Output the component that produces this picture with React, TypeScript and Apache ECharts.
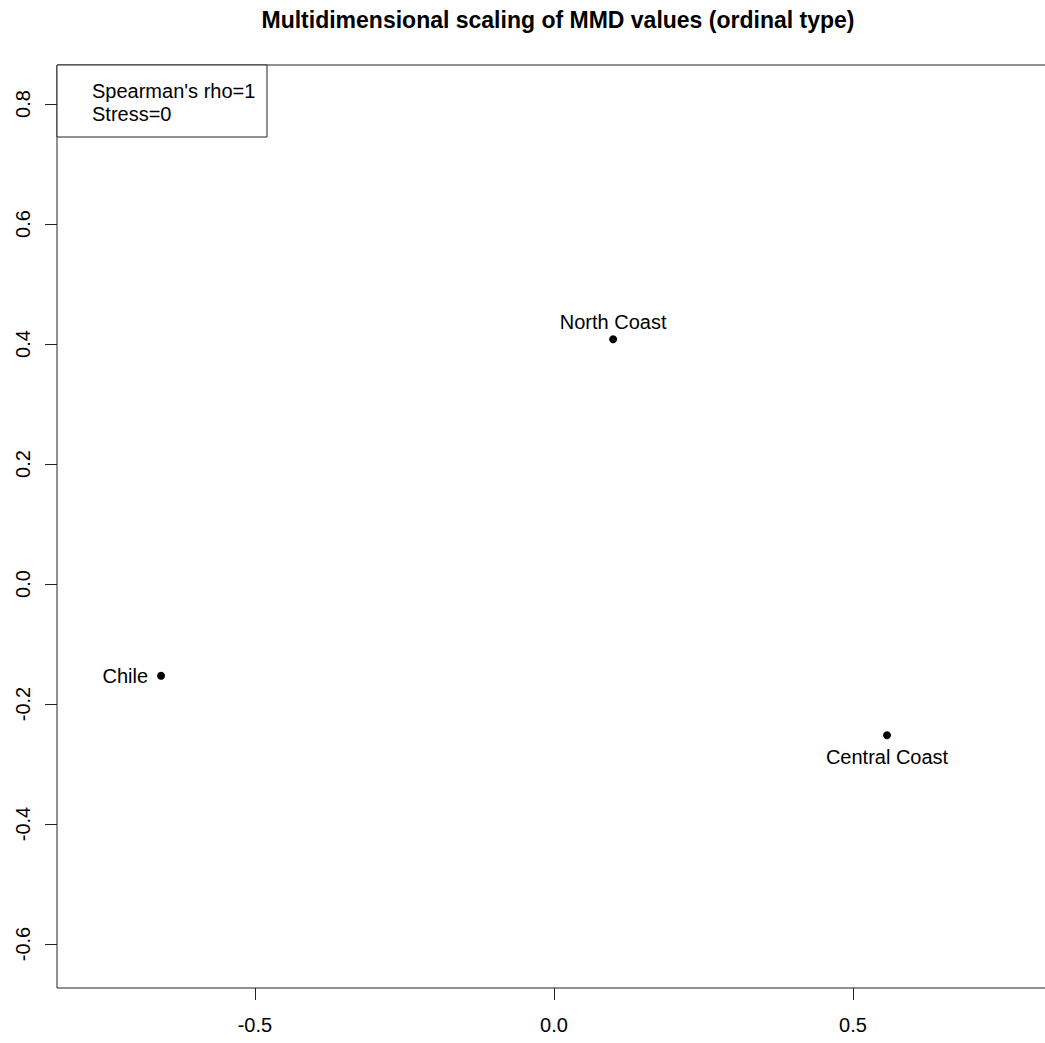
import React, { useEffect, useRef } from "react";
import * as echarts from "echarts";

// MDS coordinates of the three samples
const sampleNames = ["North Coast", "Chile", "Central Coast"];
const dim1 = [0.099, -0.657, 0.557];
const dim2 = [0.408, -0.153, -0.252];
const labelSides = ["top", "left", "bottom"];
const labelGaps = [3, 9, 8];

// axis ticks
const xTicks = [-0.5, 0.0, 0.5];
const yTicks = [-0.6, -0.4, -0.2, 0.0, 0.2, 0.4, 0.6, 0.8];

// fit statistics shown in the corner box
const fitLines = ["Spearman's rho=1", "Stress=0"];

const FONT = "'Liberation Sans', Arial, Helvetica, sans-serif";

export default function App() {
  const ref = useRef<HTMLDivElement>(null);

  useEffect(() => {
    if (!ref.current) return;
    const chart = echarts.init(ref.current, undefined, { renderer: "svg" });

    const gridLeft = 57;
    const gridTop = 65;
    const gridWidth = 992;
    const gridHeight = 923;
    // equal aspect ratio: ~598 px per unit on both axes
    const xMin = -0.831;
    const xMax = xMin + gridWidth / 598;
    const yMax = 0.865;
    const yMin = yMax - gridHeight / 600;

    const fmt = (v: number) => v.toFixed(1);

    chart.setOption({
      animation: false,
      backgroundColor: "#ffffff",
      textStyle: { fontFamily: FONT },
      title: {
        text: "Multidimensional scaling of MMD values (ordinal type)",
        left: 553,
        top: 3,
        textAlign: "center",
        textStyle: { fontFamily: FONT, fontWeight: "bold", fontSize: 23, color: "#000" },
      },
      grid: {
        left: gridLeft,
        top: gridTop,
        width: gridWidth,
        height: gridHeight,
        show: true,
        borderColor: "#222",
        borderWidth: 1,
        backgroundColor: "transparent",
      },
      xAxis: {
        type: "value",
        min: xMin,
        max: xMax,
        splitLine: { show: false },
        axisLine: { show: false, onZero: false },
        axisTick: { show: true, length: 12, customValues: xTicks, lineStyle: { color: "#222" } },
        axisLabel: {
          customValues: xTicks,
          formatter: fmt,
          margin: 27,
          fontSize: 20,
          fontFamily: FONT,
          color: "#000",
        },
      },
      yAxis: {
        type: "value",
        min: yMin,
        max: yMax,
        splitLine: { show: false },
        axisLine: { show: false, onZero: false },
        axisTick: { show: true, length: 12, customValues: yTicks, lineStyle: { color: "#222" } },
        axisLabel: {
          customValues: yTicks,
          formatter: fmt,
          rotate: 90,
          margin: 24,
          fontSize: 20,
          fontFamily: FONT,
          color: "#000",
        },
      },
      series: [
        {
          type: "scatter",
          symbol: "circle",
          symbolSize: 8,
          itemStyle: { color: "#000", opacity: 1 },
          data: sampleNames.map((name, i) => ({
            name,
            value: [dim1[i], dim2[i]],
            label: {
              show: true,
              position: labelSides[i],
              distance: labelGaps[i],
              formatter: name,
              fontSize: 20,
              fontFamily: FONT,
              color: "#000",
            },
          })),
        },
      ],
      graphic: [
        {
          type: "rect",
          shape: { x: gridLeft, y: gridTop, width: 210, height: 72 },
          style: { fill: "#fff", stroke: "#222", lineWidth: 1 },
          z: 10,
        },
        ...fitLines.map((t, i) => ({
          type: "text",
          x: 92,
          y: 91 + i * 23,
          z: 11,
          style: {
            text: t,
            font: `20px ${FONT}`,
            fill: "#000",
            verticalAlign: "middle",
          },
        })),
      ],
    });

    return () => chart.dispose();
  }, []);

  // the plot box runs past the right edge of the page, so the chart is wider than its frame
  return (
    <div
      style={{
        position: "fixed",
        left: 0,
        top: 0,
        width: 1045,
        height: 1043,
        overflow: "hidden",
        background: "#fff",
      }}
    >
      <div ref={ref} style={{ width: 1100, height: 1043 }} />
    </div>
  );
}
